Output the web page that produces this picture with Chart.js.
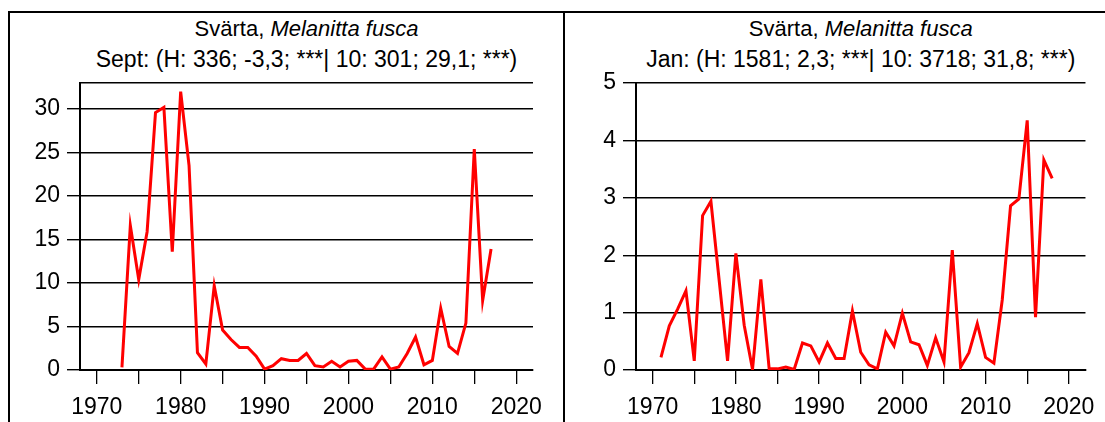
<!DOCTYPE html>
<html>
<head>
<meta charset="utf-8">
<script src="https://cdn.jsdelivr.net/npm/chart.js@4/dist/chart.umd.min.js"></script>
<style>
  html, body { margin: 0; padding: 0; background: #fff; }
  body { width: 1105px; height: 422px; position: relative; overflow: hidden;
         font-family: "Liberation Sans", Arial, sans-serif; }
  .panel { position: absolute; top: 11px; height: 420px;
           border-left: 2px solid #000; border-top: 2px solid #000; }
  #panelSept { left: 8px; width: 553px; }
  #panelJan { left: 563px; width: 540px; }
  .panel canvas { position: absolute; left: 0; top: 0; }
  .title { position: absolute; top: 0; text-align: center; font-size: 23px;
           line-height: 31px; color: #000; white-space: nowrap; }
  .title .head { font-size: 22px; }
</style>
</head>
<body>
<div class="panel" id="panelSept">
  <div class="title" id="titleSept"></div>
  <canvas id="chartSept" width="553" height="409"></canvas>
</div>
<div class="panel" id="panelJan">
  <div class="title" id="titleJan"></div>
  <canvas id="chartJan" width="540" height="409"></canvas>
</div>
<script>
// Svärta (Melanitta fusca) index per year: September and January counts
const speciesName = "Svärta, ";
const speciesLatin = "Melanitta fusca";
const subtitleSept = "Sept: (H: 336; -3,3; ***| 10: 301; 29,1; ***)";
const subtitleJan = "Jan: (H: 1581; 2,3; ***| 10: 3718; 31,8; ***)";

const yearsSept = [1973, 1974, 1975, 1976, 1977, 1978, 1979, 1980, 1981, 1982,
                   1983, 1984, 1985, 1986, 1987, 1988, 1989, 1990, 1991, 1992,
                   1993, 1994, 1995, 1996, 1997, 1998, 1999, 2000, 2001, 2002,
                   2003, 2004, 2005, 2006, 2007, 2008, 2009, 2010, 2011, 2012,
                   2013, 2014, 2015, 2016, 2017];
const valuesSept = [0.3, 16.6, 10.4, 15.9, 29.6, 30.2, 13.6, 32.0, 23.5, 2.0,
                    0.7, 9.7, 4.6, 3.5, 2.6, 2.6, 1.6, 0.1, 0.5, 1.3,
                    1.1, 1.1, 1.9, 0.5, 0.35, 1.0, 0.35, 1.0, 1.1, 0.1,
                    0.1, 1.5, 0.1, 0.35, 1.9, 3.8, 0.6, 1.1, 7.1, 2.7,
                    1.9, 5.4, 25.4, 8.0, 13.9];

const yearsJan = [1971, 1972, 1973, 1974, 1975, 1976, 1977, 1978, 1979, 1980,
                  1981, 1982, 1983, 1984, 1985, 1986, 1987, 1988, 1989, 1990,
                  1991, 1992, 1993, 1994, 1995, 1996, 1997, 1998, 1999, 2000,
                  2001, 2002, 2003, 2004, 2005, 2006, 2007, 2008, 2009, 2010,
                  2011, 2012, 2013, 2014, 2015, 2016, 2017, 2018];
const valuesJan = [0.22, 0.77, 1.06, 1.38, 0.16, 2.69, 2.94, 1.55, 0.16, 2.03,
                   0.78, 0.01, 1.58, 0.02, 0.02, 0.05, 0.01, 0.47, 0.42, 0.14,
                   0.47, 0.2, 0.2, 1.03, 0.31, 0.09, 0.02, 0.66, 0.42, 0.99,
                   0.49, 0.44, 0.08, 0.56, 0.14, 2.09, 0.05, 0.3, 0.81, 0.22,
                   0.12, 1.22, 2.86, 2.98, 4.35, 0.92, 3.66, 3.34];

// Axis ranges and tick spacing
const yearMin = 1968, yearMax = 2022, yearStep = 5, yearLabelEvery = 10;
const septMax = 33, septStep = 5;
const janMax = 5, janStep = 1;

const FONT = { family: "'Liberation Sans', Arial, sans-serif", size: 23 };

function buildTitle(el, subtitle) {
  el.innerHTML = "";
  const head = document.createElement("span");
  head.className = "head";
  head.appendChild(document.createTextNode(speciesName));
  const it = document.createElement("i");
  it.textContent = speciesLatin;
  head.appendChild(it);
  el.appendChild(head);
  el.appendChild(document.createElement("br"));
  el.appendChild(document.createTextNode(subtitle));
}

function makeChart(canvasId, titleId, subtitle, years, values, yMax, yStep, yWidth, padRight) {
  const titleEl = document.getElementById(titleId);
  buildTitle(titleEl, subtitle);

  const placeTitle = {
    id: "placeTitle",
    afterLayout(chart) {
      const a = chart.chartArea;
      titleEl.style.left = a.left + "px";
      titleEl.style.width = (a.right - a.left) + "px";
    }
  };

  return new Chart(document.getElementById(canvasId), {
    type: "line",
    data: {
      datasets: [{
        data: years.map((y, i) => ({ x: y, y: values[i] })),
        borderColor: "#ff0000",
        borderWidth: 3,
        pointRadius: 0,
        tension: 0,
        fill: false
      }]
    },
    options: {
      responsive: false,
      animation: false,
      layout: { padding: { top: 70, right: padRight, bottom: 0, left: 0 } },
      plugins: { legend: { display: false }, title: { display: false }, tooltip: { enabled: false } },
      scales: {
        x: {
          type: "linear",
          min: yearMin,
          max: yearMax,
          border: { display: true, color: "#000", width: 2 },
          grid: { drawOnChartArea: false, drawTicks: true, tickLength: 14, color: "#000", lineWidth: 1.3 },
          ticks: {
            stepSize: yearStep,
            includeBounds: false,
            autoSkip: false,
            maxRotation: 0,
            padding: 10,
            color: "#000",
            font: FONT,
            callback: v => (v % yearLabelEvery === 0 ? String(v) : "")
          },
          afterFit(scale) { scale.height = 52; }
        },
        y: {
          min: 0,
          max: yMax,
          border: { display: true, color: "#000", width: 2 },
          grid: {
            color: "#000",
            lineWidth: 1.4,
            tickLength: 13,
            tickColor: ctx => (ctx.tick && ctx.tick.value % yStep !== 0 ? "rgba(0,0,0,0)" : "#000")
          },
          ticks: {
            stepSize: yStep,
            includeBounds: true,
            padding: 7,
            color: "#000",
            font: FONT,
            callback: v => (v % yStep === 0 ? String(v) : "")
          },
          afterFit(scale) { scale.width = yWidth; }
        }
      }
    },
    plugins: [placeTitle]
  });
}

makeChart("chartSept", "titleSept", subtitleSept, yearsSept, valuesSept, septMax, septStep, 70, 30);
makeChart("chartJan", "titleJan", subtitleJan, yearsJan, valuesJan, janMax, janStep, 71, 16);
</script>
</body>
</html>
